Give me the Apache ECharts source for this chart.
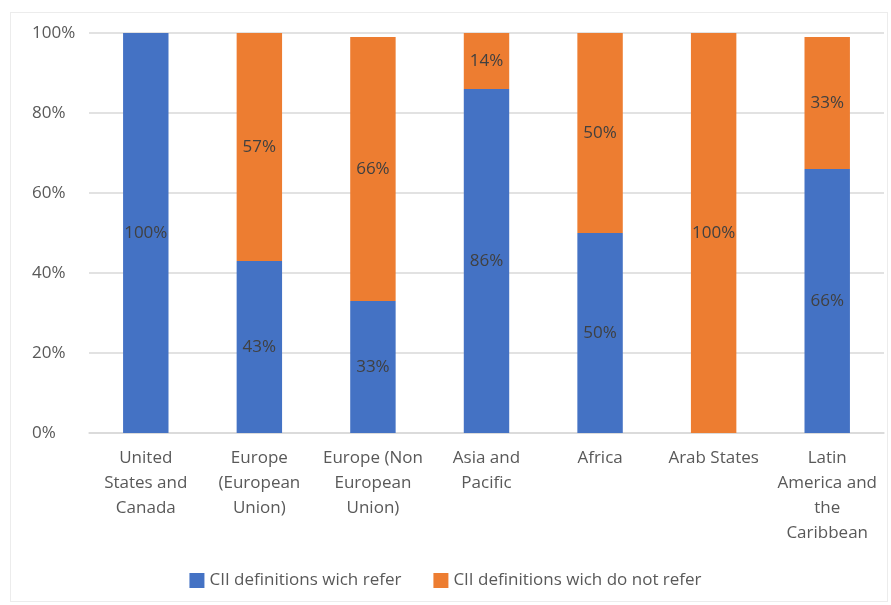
<!DOCTYPE html>
<html>
<head>
<meta charset="utf-8">
<script src="https://cdn.jsdelivr.net/npm/echarts@6/dist/echarts.min.js"></script>
<style>
  html, body { margin: 0; padding: 0; background: #ffffff; }
  #frame { position: absolute; left: 10px; top: 12px; width: 878px; height: 590px; border: 1px solid #ececec; box-sizing: border-box; }
  #chart { width: 891px; height: 605px; position: absolute; left: 0; top: 0; }
</style>
</head>
<body>
<div id="frame"></div>
<div id="chart"></div>
<script>
// Regions along the x axis
const categories = [
  'United\nStates and\nCanada',
  'Europe\n(European\nUnion)',
  'Europe (Non\nEuropean\nUnion)',
  'Asia and\nPacific',
  'Africa',
  'Arab States',
  'Latin\nAmerica and\nthe\nCaribbean'
];

// Share of CII definitions (percent)
const referValues = [100, 43, 33, 86, 50, 0, 66];
const notReferValues = [0, 57, 66, 14, 50, 100, 33];

// Y axis ticks
const yTicks = [0, 20, 40, 60, 80, 100];

const seriesNames = ['CII definitions wich refer', 'CII definitions wich do not refer'];
const FONT = '"Open Sans", "Noto Sans", sans-serif';
const FS = 17;

const chart = echarts.init(document.getElementById('chart'), null, { renderer: 'canvas' });

const labelCfg = {
  show: true,
  position: 'inside',
  color: '#404040',
  fontSize: FS,
  fontFamily: FONT,
  formatter: p => (p.value > 0 ? p.value + '%' : '')
};

chart.setOption({
  animation: false,
  textStyle: { fontFamily: FONT },
  grid: { left: 89, right: 7, top: 33, bottom: 172, containLabel: false },
  legend: {
    bottom: 11,
    left: 'center',
    itemWidth: 15,
    itemHeight: 15,
    itemGap: 32,
    icon: 'rect',
    textStyle: { color: '#595959', fontSize: FS, fontFamily: FONT },
    data: seriesNames
  },
  xAxis: {
    type: 'category',
    data: categories,
    axisTick: { show: false },
    axisLine: { lineStyle: { color: '#d9d9d9', width: 1.5 } },
    axisLabel: {
      color: '#595959',
      fontSize: FS,
      fontFamily: FONT,
      lineHeight: 25,
      margin: 13,
      interval: 0
    }
  },
  yAxis: {
    type: 'value',
    min: yTicks[0],
    max: yTicks[yTicks.length - 1],
    interval: 20,
    axisLine: { show: false },
    axisTick: { show: false },
    splitLine: { lineStyle: { color: '#d9d9d9', width: 1.5 } },
    axisLabel: {
      color: '#595959',
      fontSize: FS,
      fontFamily: FONT,
      align: 'left',
      margin: 57,
      formatter: v => v + '%'
    }
  },
  series: [
    {
      name: seriesNames[0],
      type: 'bar',
      stack: 'total',
      data: referValues,
      barWidth: '40%',
      itemStyle: { color: '#4472c4' },
      label: labelCfg
    },
    {
      name: seriesNames[1],
      type: 'bar',
      stack: 'total',
      data: notReferValues,
      barWidth: '40%',
      itemStyle: { color: '#ed7d31' },
      label: labelCfg
    }
  ]
});
</script>
</body>
</html>
